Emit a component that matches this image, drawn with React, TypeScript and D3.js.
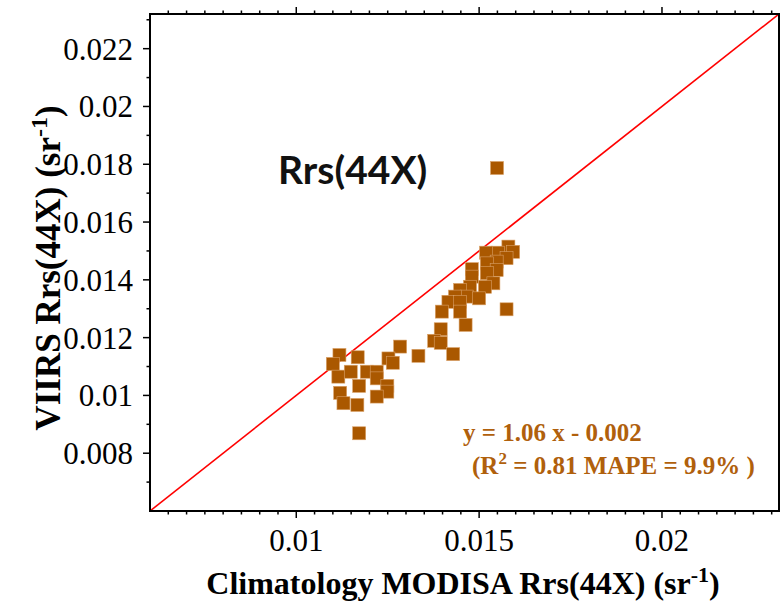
import React from "react";
import * as d3 from "d3";

// ---- data ----
const climatologyX = [
  0.01118, 0.01100, 0.01168, 0.01284, 0.01334, 0.01252, 0.01264, 0.01115, 0.01149, 0.01193,
  0.01220, 0.01220, 0.01172, 0.01249, 0.01249, 0.01120, 0.01129, 0.01167, 0.01220, 0.01172,
  0.01580, 0.01593, 0.01552, 0.01519, 0.01575, 0.01548, 0.01521, 0.01548, 0.01480, 0.01480,
  0.01521, 0.01539, 0.01516, 0.01475, 0.01448, 0.01466, 0.01500, 0.01434, 0.01416, 0.01448,
  0.01398, 0.01448, 0.01575, 0.01463, 0.01395, 0.01377, 0.01395, 0.01429, 0.01549
];
const viirsY = [
  0.01140, 0.01109, 0.01132, 0.01169, 0.01137, 0.01128, 0.01113, 0.01065, 0.01082, 0.01082,
  0.01082, 0.01059, 0.01033, 0.01033, 0.01013, 0.01009, 0.00973, 0.00967, 0.00996, 0.00869,
  0.01515, 0.01497, 0.01494, 0.01494, 0.01475, 0.01463, 0.01457, 0.01434, 0.01437, 0.01411,
  0.01423, 0.01388, 0.01376, 0.01376, 0.01365, 0.01342, 0.01336, 0.01342, 0.01324, 0.01324,
  0.01290, 0.01290, 0.01298, 0.01244, 0.01229, 0.01189, 0.01182, 0.01143, 0.01787
];
const axisDomain = [0.006, 0.0232];
const xMajorTicks = [0.01, 0.015, 0.02];
const xTickLabels = ["0.01", "0.015", "0.02"];
const yMajorTicks = [0.008, 0.01, 0.012, 0.014, 0.016, 0.018, 0.02, 0.022];
const yTickLabels = ["0.008", "0.01", "0.012", "0.014", "0.016", "0.018", "0.02", "0.022"];
const fitLine1 = "y = 1.06 x - 0.002";
const panelTitle = "Rrs(44X)";

const W = 780;
const H = 603;
const L = 150, R = 779, T = 14, B = 511;

export default function App() {
  const x = d3.scaleLinear().domain(axisDomain).range([L, R]);
  const y = d3.scaleLinear().domain(axisDomain).range([B, T]);

  const xMinor = d3.range(13, 47).map((k) => k * 0.0005).filter((v) => v > axisDomain[0] && v < axisDomain[1]);
  const yMinor = d3.range(7, 24).map((k) => k * 0.001).filter((v) => v > axisDomain[0] && v < axisDomain[1]);
  const isMajorX = (v: number) => xMajorTicks.some((m) => Math.abs(m - v) < 1e-9);
  const isMajorY = (v: number) => yMajorTicks.some((m) => Math.abs(m - v) < 1e-9);

  const markerColor = "#AA5800";
  const textColor = "#B0600C";
  const sq = 13;

  return (
    <svg
      width={W}
      height={H}
      style={{ position: "absolute", left: 0, top: 0, background: "#fff" }}
      fontFamily="'Liberation Serif', 'Times New Roman', serif"
    >
      <defs>
        <clipPath id="plotClip">
          <rect x={L} y={T} width={R - L} height={B - T} />
        </clipPath>
      </defs>
      {/* 1:1 line */}
      <line
        x1={x(axisDomain[0])}
        y1={y(axisDomain[0])}
        x2={x(axisDomain[1])}
        y2={y(axisDomain[1])}
        stroke="#ff0000"
        strokeWidth={1.6}
        clipPath="url(#plotClip)"
      />
      {/* points */}
      <g clipPath="url(#plotClip)">
        {climatologyX.map((xv, i) => (
          <rect
            key={i}
            x={x(xv) - sq / 2}
            y={y(viirsY[i]) - sq / 2}
            width={sq}
            height={sq}
            fill={markerColor}
            stroke="#D9A066"
            strokeWidth={0.6}
          />
        ))}
      </g>
      {/* frame */}
      <rect x={L} y={T} width={R - L} height={B - T} fill="none" stroke="#000" strokeWidth={2} />
      {/* x ticks bottom and top */}
      {xMinor.map((v, i) => {
        const len = isMajorX(v) ? 7 : 3.5;
        return (
          <g key={"xt" + i}>
            <line x1={x(v)} x2={x(v)} y1={B} y2={B + len} stroke="#000" strokeWidth={1.5} />
            <line x1={x(v)} x2={x(v)} y1={T} y2={T - len} stroke="#000" strokeWidth={1.5} />
          </g>
        );
      })}
      {/* y ticks left */}
      {yMinor.map((v, i) => {
        const len = isMajorY(v) ? 7 : 3.5;
        return <line key={"yt" + i} x1={L} x2={L - len} y1={y(v)} y2={y(v)} stroke="#000" strokeWidth={1.5} />;
      })}
      {/* tick labels */}
      {xMajorTicks.map((v, i) => (
        <text key={"xl" + i} x={x(v)} y={551} textAnchor="middle" fontSize={31} fill="#000">
          {xTickLabels[i]}
        </text>
      ))}
      {yMajorTicks.map((v, i) => (
        <text key={"yl" + i} x={133} y={y(v) + 11} textAnchor="end" fontSize={31} fill="#000">
          {yTickLabels[i]}
        </text>
      ))}
      {/* axis titles */}
      <text x={463} y={594} textAnchor="middle" fontSize={32} fontWeight="bold" fill="#000">
        Climatology MODISA Rrs(44X) (sr
        <tspan dy={-12} fontSize={22}>-1</tspan>
        <tspan dy={12}>)</tspan>
      </text>
      <text
        transform="translate(60,268) rotate(-90)"
        textAnchor="middle"
        fontSize={35}
        fontWeight="bold"
        fill="#000"
      >
        VIIRS Rrs(44X) (sr
        <tspan dy={-13} fontSize={24}>-1</tspan>
        <tspan dy={13}>)</tspan>
      </text>
      {/* panel label */}
      <text x={278} y={184} fontSize={39} fontWeight="bold" fontFamily="Lato, 'Open Sans', sans-serif" fill="#111">
        {panelTitle}
      </text>
      {/* fit annotation */}
      <text x={463} y={441} fontSize={25} fontWeight="bold" fill={textColor}>
        {fitLine1}
      </text>
      <text x={472} y={474} fontSize={25} fontWeight="bold" fill={textColor}>
        (R<tspan dy={-10} fontSize={17}>2</tspan>
        <tspan dy={10}> = 0.81 MAPE = 9.9% )</tspan>
      </text>
    </svg>
  );
}
